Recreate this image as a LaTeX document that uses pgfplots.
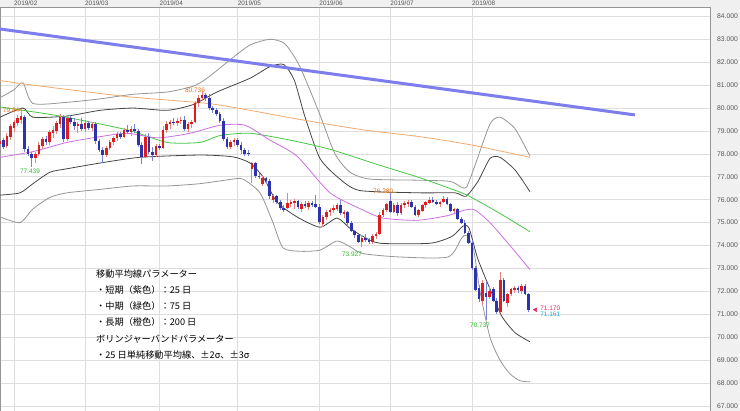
\documentclass[border=0pt]{standalone}
\usepackage{pgfplots}
\usepackage{pgfplotstable}
\pgfplotsset{compat=1.18}
\usepackage{fontspec}
\setmainfont{Liberation Sans}
\newfontfamily\jp{Noto Sans CJK JP}

\definecolor{cstrip}{RGB}{240,240,240}
\definecolor{cgrid}{RGB}{222,222,222}
\definecolor{cborder}{RGB}{150,150,150}
\definecolor{ctick}{RGB}{85,85,85}
\definecolor{cred}{RGB}{220,30,30}
\definecolor{cblue}{RGB}{45,50,175}
\definecolor{wred}{RGB}{235,130,130}
\definecolor{wblue}{RGB}{120,130,215}
\definecolor{cpurple}{RGB}{205,110,225}
\definecolor{cgreen}{RGB}{70,200,70}
\definecolor{corange}{RGB}{240,170,110}
\definecolor{cbb2}{RGB}{70,70,70}
\definecolor{cbb3}{RGB}{150,150,150}
\definecolor{ctrend}{RGB}{125,125,235}
\definecolor{lorange}{RGB}{230,110,20}
\definecolor{lgreen}{RGB}{40,190,40}
\definecolor{lpink}{RGB}{230,40,110}
\definecolor{lcyan}{RGB}{30,170,220}

\pgfplotstableread{
i o h l c
-4 78.45 78.65 78.30 78.55
-2 78.35 78.90 78.25 78.80
-1 78.75 79.30 78.60 79.20
0 79.15 79.50 78.95 79.40
1 79.35 79.70 79.20 79.55
2 79.50 79.844 79.30 79.65
6 77.80 78.10 77.60 78.00
7 78.00 78.50 77.90 78.40
8 78.35 78.75 78.20 78.65
10 78.50 79.05 78.40 78.95
11 78.90 79.20 78.70 79.05
12 79.00 79.45 78.85 79.35
13 79.30 79.75 79.15 79.60
15 78.65 79.70 78.55 79.55
18 79.20 79.40 78.90 79.30
20 79.10 79.50 78.95 79.35
22 79.15 79.40 79.00 79.30
26 77.95 78.35 77.85 78.25
27 78.25 78.60 78.15 78.50
28 78.50 78.80 78.40 78.70
29 78.70 78.95 78.55 78.85
31 78.75 79.15 78.70 79.05
33 78.95 79.20 78.80 79.10
37 77.85 78.85 77.80 78.75
40 77.95 78.45 77.85 78.35
42 78.25 79.20 78.20 79.05
43 79.05 79.45 78.90 79.30
44 79.30 79.50 79.10 79.40
46 79.35 79.55 79.20 79.45
47 79.45 79.60 79.30 79.50
49 79.10 79.40 78.95 79.30
50 79.30 79.50 79.15 79.40
51 79.40 80.30 79.35 80.20
52 80.20 80.55 80.05 80.45
53 80.45 80.736 80.30 80.55
61 78.30 78.60 78.20 78.50
62 78.50 78.70 78.35 78.60
67 77.35 77.65 76.75 77.60
70 76.70 77.05 76.60 76.95
73 76.00 76.25 75.85 76.15
77 75.65 76.30 75.60 75.85
78 75.85 76.00 75.70 75.90
79 75.85 76.05 75.60 75.95
81 75.60 75.90 75.45 75.80
83 75.70 75.95 75.55 75.85
87 74.95 75.35 74.80 75.25
88 75.25 75.55 75.10 75.45
89 75.45 75.65 75.30 75.55
90 75.55 75.75 75.40 75.65
91 75.60 75.85 75.50 75.75
93 75.40 75.55 75.20 75.45
98 74.15 74.45 73.927 74.35
101 74.15 74.50 74.05 74.40
102 74.40 74.60 74.30 74.50
103 74.50 75.45 74.45 75.35
104 75.35 75.65 75.25 75.55
105 75.55 75.85 75.45 75.80
107 75.45 75.85 75.40 75.75
109 75.40 75.85 75.35 75.75
110 75.75 75.95 75.65 75.85
111 75.80 76.00 75.70 75.90
114 75.35 75.60 75.25 75.55
115 75.50 75.80 75.45 75.75
116 75.75 75.95 75.65 75.90
117 75.85 76.10 75.80 76.00
120 75.80 75.95 75.70 75.90
121 75.90 76.15 75.85 76.05
124 75.50 75.65 75.40 75.60
132 71.60 72.50 71.40 72.35
134 71.75 72.20 71.65 72.00
137 71.10 72.85 71.05 72.50
139 71.50 71.95 71.30 71.90
140 71.90 72.15 71.80 72.10
141 72.05 72.25 71.95 72.15
143 72.00 72.30 71.90 72.25
}\upcandles

\pgfplotstableread{
i o h l c
-3 78.60 78.70 78.20 78.30
3 79.60 79.70 78.10 78.20
4 78.20 78.35 77.90 78.00
5 78.00 78.10 77.439 77.80
9 78.65 78.80 78.40 78.50
14 79.60 79.70 78.50 78.65
16 79.55 79.70 79.30 79.40
17 79.40 79.55 79.05 79.20
19 79.30 79.55 79.00 79.10
21 79.35 79.45 79.05 79.15
23 79.30 79.40 78.45 78.55
24 78.55 78.65 78.10 78.15
25 78.15 78.30 77.60 77.95
30 78.85 78.95 78.65 78.75
32 79.05 79.25 78.85 78.95
34 79.10 79.30 78.90 79.00
35 79.00 79.10 78.30 78.40
36 78.40 78.50 77.55 77.85
38 78.75 78.90 78.00 78.10
39 78.10 78.30 77.70 77.95
41 78.35 78.45 78.15 78.25
45 79.40 79.55 79.25 79.35
48 79.50 79.65 79.00 79.10
54 80.55 80.65 80.30 80.45
55 80.45 80.60 79.90 80.00
56 80.00 80.10 79.80 79.90
57 79.90 80.00 79.65 79.75
58 79.75 79.85 79.35 79.45
59 79.45 79.55 78.55 78.65
60 78.65 78.75 78.20 78.30
63 78.60 78.70 78.30 78.40
64 78.40 78.50 78.00 78.15
65 78.15 78.25 77.90 78.00
66 78.05 78.15 77.90 78.00
68 77.60 77.65 76.95 77.05
69 77.05 77.15 76.90 77.00
71 76.95 77.00 76.70 76.80
72 76.80 76.90 76.05 76.15
74 76.15 76.20 75.80 75.90
75 75.90 76.00 75.55 75.65
76 75.65 75.75 75.45 75.55
80 75.95 76.00 75.60 75.70
82 75.80 75.95 75.65 75.75
84 75.85 75.95 75.70 75.80
85 75.80 76.20 75.65 75.70
86 75.70 75.80 74.95 75.05
92 75.75 76.00 75.35 75.40
94 75.45 75.50 74.90 75.00
95 75.00 75.05 74.60 74.65
96 74.65 74.70 74.35 74.45
97 74.45 74.50 74.10 74.15
99 74.35 74.50 74.15 74.25
100 74.25 74.35 74.05 74.15
106 75.95 76.28 75.40 75.45
108 75.75 75.90 75.30 75.40
112 75.90 76.00 75.65 75.70
113 75.70 75.75 75.30 75.35
118 76.00 76.10 75.85 75.90
119 75.90 76.00 75.75 75.80
122 76.05 76.10 75.75 75.80
123 75.80 75.85 75.45 75.50
125 75.60 75.65 75.10 75.15
126 75.15 75.25 74.95 75.00
127 75.00 75.10 74.50 74.55
128 74.55 74.65 74.05 74.10
129 74.10 74.25 72.95 73.00
130 73.00 73.10 72.00 72.05
131 72.15 72.30 71.55 71.65
133 71.95 72.40 70.737 71.75
135 72.10 72.20 71.55 71.60
136 71.60 71.70 71.00 71.10
138 72.50 72.60 71.55 71.60
142 72.15 72.25 71.95 72.05
144 72.25 72.30 71.85 71.90
145 71.90 71.95 71.10 71.17
}\downcandles

\begin{document}
\begin{tikzpicture}[x=1pt,y=1pt]
\path[use as bounding box] (0,0) rectangle (740,411);
\fill[cstrip] (0,0) rectangle (740,411);
\begin{axis}[
  at={(0pt,0pt)}, anchor=south west,
  scale only axis, width=710pt, height=404pt,
  xmin=-3.94, xmax=196.06, ymin=66.78, ymax=84.41,
  axis line style={draw=cborder, line width=0.8pt},
  axis background/.style={fill=white},
  xtick={0,20,41,63,86,106,129},
  xticklabels={2019/02,2019/03,2019/04,2019/05,2019/06,2019/07,2019/08},
  xticklabel pos=upper,
  xticklabel style={anchor=south west, inner sep=0pt, yshift=1pt, text=ctick, font=\fontsize{6.4}{7}\selectfont},
  ytick={67,68,...,84},
  yticklabel pos=upper,
  yticklabel={\pgfmathprintnumber[fixed,fixed zerofill,precision=3]{\tick}},
  yticklabel style={anchor=west, inner sep=0pt, xshift=7pt, text=ctick, font=\fontsize{6.8}{7}\selectfont},
  /pgf/number format/assume math mode=true,
  major tick length=0pt,
  grid=major, major grid style={draw=cgrid, line width=0.7pt},
  clip=true,
  every axis plot/.append style={line join=round},
]
% Bollinger bands +-3 sigma
\addplot[cbb3, line width=0.8pt, smooth, tension=0.4] coordinates {(-3.94,80.45)(0,80.8)(2.54,81.1)(5.35,80.2)(14.93,80.25)(24.23,80.4)(33.52,80.6)(43.1,80.7)(50.42,80.95)(54.37,81.3)(60.85,82.1)(66.48,82.75)(72.11,83.0)(76.34,82.8)(80.56,81.8)(86.2,79.7)(90.42,78.0)(94.65,77.2)(100.28,76.9)(114.37,76.85)(122.82,76.8)(126,76.55)(127.5,76.55)(129.86,77.5)(134.08,79.3)(136.9,79.6)(141.13,79.1)(145.35,77.9)};
\addplot[cbb3, line width=0.8pt, smooth, tension=0.4] coordinates {(-3.94,75.25)(1.69,75.0)(5.35,75.6)(10.14,76.1)(14.93,76.3)(24.23,76.45)(33.52,76.6)(43.1,76.6)(52.39,76.7)(61.69,76.9)(64.5,76.9)(69.3,76.3)(72.96,75.0)(75.77,73.9)(80.56,73.75)(86.2,73.8)(90.99,74.2)(94.65,73.95)(98.31,73.65)(108.73,73.5)(122.25,73.5)(126,74.3)(127.5,74.45)(129.5,73.8)(131.27,72.0)(134.08,70.0)(136.9,69.0)(139.72,68.4)(142.54,68.1)(145.35,68.05)};
% Bollinger bands +-2 sigma
\addplot[cbb2, line width=0.8pt, smooth, tension=0.4] coordinates {(-3.94,79.6)(2.54,80.0)(5.35,79.6)(14.93,79.65)(24.23,79.9)(33.52,80.0)(43.1,79.9)(50.42,80.15)(57.18,80.7)(66.48,81.3)(72,81.8)(76,81.9)(79,81.2)(82,79.6)(86.2,77.8)(91.83,76.9)(97.46,76.4)(114.37,76.3)(124.23,76.3)(127.32,76.15)(130.7,76.8)(134.08,77.8)(136.9,77.85)(141.13,77.3)(145.35,76.35)};
\addplot[cbb2, line width=0.8pt, smooth, tension=0.4] coordinates {(-3.94,76.2)(1.69,76.3)(5.35,76.7)(10.14,77.2)(14.93,77.35)(24.23,77.6)(35.49,77.85)(52.39,77.95)(61.69,77.87)(66.48,77.6)(70.14,77.0)(74.08,75.9)(79.72,75.25)(86.2,74.8)(90.99,75.2)(94.65,74.75)(98.31,74.4)(103.1,74.1)(117.18,74.1)(123.38,74.4)(126.5,74.85)(128.2,74.75)(130.7,73.4)(134.65,71.9)(137.46,70.9)(141.13,70.2)(145.35,69.8)};
% moving averages
\addplot[corange, line width=0.8pt, smooth, tension=0.4] coordinates {(-3.94,81.2)(5.35,81.0)(31.83,80.5)(54.65,80.2)(66.48,79.9)(80.56,79.5)(98.31,79.05)(114.37,78.75)(128.45,78.4)(145.35,77.85)};
\addplot[cgreen, line width=0.8pt, smooth, tension=0.4] coordinates {(-3.94,80.05)(12.96,79.65)(31.83,79.05)(43.1,78.5)(52.39,78.5)(58.03,78.8)(66.48,78.9)(77.75,78.6)(89.01,78.2)(103.1,77.5)(113.52,77.0)(120,76.65)(127.61,76.2)(136.9,75.4)(145.35,74.6)};
\addplot[cpurple, line width=0.8pt, smooth, tension=0.4] coordinates {(-3.94,77.85)(5.35,78.1)(14.93,78.5)(24.23,78.75)(31.83,78.9)(40.56,78.7)(49.58,78.9)(58.03,79.25)(65.07,79.25)(72.11,78.6)(79.72,77.9)(89.01,76.3)(98.31,75.55)(103.94,75.2)(113.52,75.1)(121.97,75.3)(127.04,75.55)(129.86,75.55)(134.08,75.0)(139.72,74.0)(145.35,72.95)};
% candles: wicks
\addplot[draw=none, forget plot, error bars/.cd, y dir=both, y explicit, error mark=none, error bar style={draw=wred, line width=0.8pt}]
  table[x=i, y expr={(\thisrow{h}+\thisrow{l})/2}, y error expr={(\thisrow{h}-\thisrow{l})/2}] {\upcandles};
\addplot[draw=none, forget plot, error bars/.cd, y dir=both, y explicit, error mark=none, error bar style={draw=wblue, line width=0.8pt}]
  table[x=i, y expr={(\thisrow{h}+\thisrow{l})/2}, y error expr={(\thisrow{h}-\thisrow{l})/2}] {\downcandles};
% candles: bodies
\addplot[draw=none, forget plot, error bars/.cd, y dir=both, y explicit, error mark=none, error bar style={draw=cred, line width=2.6pt}]
  table[x=i, y expr={(\thisrow{o}+\thisrow{c})/2}, y error expr={(\thisrow{c}-\thisrow{o})/2}] {\upcandles};
\addplot[draw=none, forget plot, error bars/.cd, y dir=both, y explicit, error mark=none, error bar style={draw=cblue, line width=2.6pt}]
  table[x=i, y expr={(\thisrow{o}+\thisrow{c})/2}, y error expr={(\thisrow{o}-\thisrow{c})/2}] {\downcandles};
% trend line
\addplot[ctrend, line width=3pt] coordinates {(-3.94,83.45) (174.9,79.70)};
% last price marker
\addplot[only marks, mark=triangle*, mark size=2.2pt, mark options={rotate=90, fill=lpink, draw=lpink}] coordinates {(146.9,71.2)};
% value labels
\node[text=lorange, font=\fontsize{6.5}{7}\selectfont, inner sep=0pt] at (axis cs:-0.3,79.92) {79.844};
\node[text=lgreen, font=\fontsize{6.5}{7}\selectfont, inner sep=0pt] at (axis cs:4.5,77.22) {77.439};
\node[text=lorange, font=\fontsize{6.5}{7}\selectfont, inner sep=0pt] at (axis cs:51,80.79) {80.736};
\node[text=lorange, font=\fontsize{6.5}{7}\selectfont, inner sep=0pt] at (axis cs:104,76.39) {76.280};
\node[text=lgreen, font=\fontsize{6.5}{7}\selectfont, inner sep=0pt] at (axis cs:95.2,73.64) {73.927};
\node[text=lgreen, font=\fontsize{6.5}{7}\selectfont, inner sep=0pt] at (axis cs:131.3,70.54) {70.737};
\node[text=lpink, font=\fontsize{6.5}{7}\selectfont, inner sep=0pt, anchor=west] at (axis cs:148.2,71.28) {71.170};
\node[text=lcyan, font=\fontsize{6.5}{7}\selectfont, inner sep=0pt, anchor=west] at (axis cs:148.2,70.98) {71.161};
% parameter notes
\node[anchor=west, inner sep=0pt, font=\jp\fontsize{9.2}{10}\selectfont] at (axis cs:23.1,72.77) {移動平均線パラメーター};
\node[anchor=west, inner sep=0pt, font=\jp\fontsize{9.2}{10}\selectfont] at (axis cs:23.1,72.05) {・短期（紫色）：25 日};
\node[anchor=west, inner sep=0pt, font=\jp\fontsize{9.2}{10}\selectfont] at (axis cs:23.1,71.35) {・中期（緑色）：75 日};
\node[anchor=west, inner sep=0pt, font=\jp\fontsize{9.2}{10}\selectfont] at (axis cs:23.1,70.65) {・長期（橙色）：200 日};
\node[anchor=west, inner sep=0pt, font=\jp\fontsize{9.2}{10}\selectfont] at (axis cs:23.1,69.93) {ボリンジャーバンドパラメーター};
\node[anchor=west, inner sep=0pt, font=\jp\fontsize{9.2}{10}\selectfont] at (axis cs:23.1,69.23) {・25 日単純移動平均線、±2\textit{σ}、±3\textit{σ}};
\end{axis}
\end{tikzpicture}
\end{document}
